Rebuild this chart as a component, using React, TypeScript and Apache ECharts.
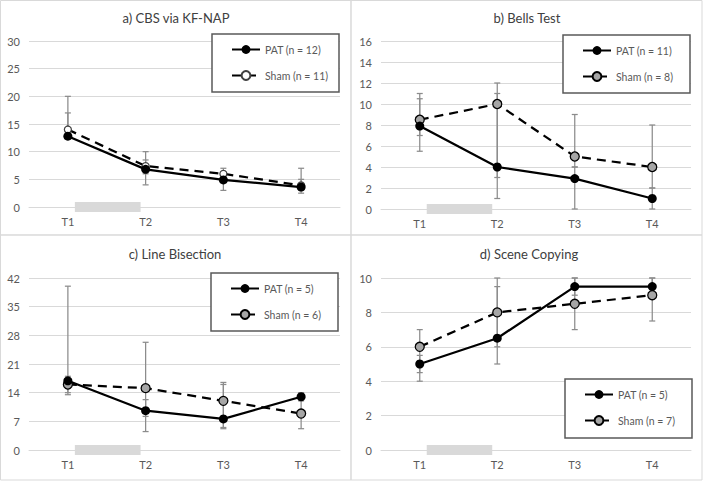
import React, { useEffect, useRef } from "react";
import * as echarts from "echarts";

// ---- data ----
const categories = ["T1", "T2", "T3", "T4"];
const interventionSpan = [0, 1]; // between T1 and T2 (category indices)

const titles = ["a) CBS via KF-NAP", "b) Bells Test", "c) Line Bisection", "d) Scene Copying"];
const patNames = ["PAT (n = 12)", "PAT (n = 11)", "PAT (n = 5)", "PAT (n = 5)"];
const shamNames = ["Sham (n = 11)", "Sham (n = 8)", "Sham (n = 6)", "Sham (n = 7)"];

const yMax = [30, 16, 42, 10];
const yInterval = [5, 2, 7, 2];

const aPat = [12.8, 6.8, 4.9, 3.6];
const aSham = [14, 7.4, 6.0, 3.9];
const aPatErr = [[12.3, 17], [4, 10], [3, 6], [2.5, 5]];
const aShamErr = [[12.6, 20], [6, 8.5], [5.5, 7], [3, 7]];

const bPat = [7.9, 4, 2.9, 1];
const bSham = [8.5, 10, 5, 4];
const bPatErr = [[5.5, 10.5], [1, 11], [0, 4], [0, 2]];
const bShamErr = [[7, 11], [3, 12], [4, 9], [2, 8]];

const cPat = [16.9, 9.6, 7.6, 13];
const cSham = [16, 15.1, 12, 8.9];
const cPatErr = [[14, 18], [4.5, 12.3], [5.2, 16], [12, 14]];
const cShamErr = [[13.5, 40], [8.2, 26.3], [5.5, 16.5], [5.2, 12.5]];

const dPat = [5, 6.5, 9.5, 9.5];
const dSham = [6, 8, 8.5, 9];
const dPatErr = [[4, 5.5], [5, 9.5], [9, 10], [9, 10]];
const dShamErr = [[4.5, 7], [6, 10], [7, 10], [7.5, 10]];

const patData = [aPat, bPat, cPat, dPat];
const shamData = [aSham, bSham, cSham, dSham];
const patErrData = [aPatErr, bPatErr, cPatErr, dPatErr];
const shamErrData = [aShamErr, bShamErr, cShamErr, dShamErr];

// ---- layout ----
const FONT = "Lato, 'Open Sans', sans-serif";
const TEXT = "#595959";
const grids = [
  { left: 29, top: 41, width: 311, height: 166 },
  { left: 381, top: 41, width: 310, height: 168 },
  { left: 29, top: 278, width: 311, height: 172 },
  { left: 381, top: 278, width: 310, height: 172 },
];
const titlePos = [
  [176, 18],
  [527, 18],
  [175, 254],
  [529, 254],
];
const legendBoxes = [
  { x: 212, y: 34, w: 127, h: 58 },
  { x: 563, y: 35, w: 127, h: 58 },
  { x: 211, y: 273, w: 127, h: 58 },
  { x: 565, y: 379, w: 127, h: 59 },
];
const panelRects = [
  { x: 0.5, y: 0.5, w: 350.5, h: 234.5 },
  { x: 351, y: 0.5, w: 351, h: 234.5 },
  { x: 0.5, y: 235, w: 350.5, h: 245 },
  { x: 351, y: 235, w: 351, h: 245 },
];

const errRender = (params: any, api: any) => {
  const x = api.value(0);
  const pLo = api.coord([x, api.value(1)]);
  const pHi = api.coord([x, api.value(2)]);
  const cap = 3;
  const style = { stroke: "#8c8c8c", lineWidth: 1.25 };
  return {
    type: "group",
    children: [
      { type: "line", shape: { x1: pLo[0], y1: pLo[1], x2: pHi[0], y2: pHi[1] }, style },
      { type: "line", shape: { x1: pLo[0] - cap, y1: pLo[1], x2: pLo[0] + cap, y2: pLo[1] }, style },
      { type: "line", shape: { x1: pHi[0] - cap, y1: pHi[1], x2: pHi[0] + cap, y2: pHi[1] }, style },
    ],
  };
};

const interventionRender = (params: any, api: any) => {
  const p0 = api.coord([api.value(0), 0]);
  const p1 = api.coord([api.value(1), 0]);
  const bw = api.size([1, 0])[0];
  const x1 = p0[0] + 0.09 * bw;
  const x2 = p1[0] - 0.065 * bw;
  return {
    type: "rect",
    shape: { x: x1, y: p0[1] - 5, width: x2 - x1, height: 10 },
    style: { fill: "#d9d9d9" },
  };
};

function buildOption() {
  const xAxis: any[] = [];
  const yAxis: any[] = [];
  const series: any[] = [];
  const legend: any[] = [];
  const graphic: any[] = [];

  for (let i = 0; i < 4; i++) {
    xAxis.push({
      type: "category",
      gridIndex: i,
      data: categories,
      boundaryGap: true,
      axisLine: { lineStyle: { color: "#d9d9d9", width: 1 } },
      axisTick: { show: false },
      axisLabel: { color: TEXT, fontSize: 11, fontFamily: FONT, margin: 9 },
    });
    yAxis.push({
      type: "value",
      gridIndex: i,
      min: 0,
      max: yMax[i],
      interval: yInterval[i],
      axisLine: { show: false },
      axisTick: { show: false },
      splitLine: { lineStyle: { color: "#d9d9d9", width: 1 } },
      axisLabel: { color: TEXT, fontSize: 11, fontFamily: FONT, margin: 9 },
    });

    series.push({
      type: "custom",
      name: "intervention" + i,
      xAxisIndex: i,
      yAxisIndex: i,
      renderItem: interventionRender,
      data: [interventionSpan],
      encode: { x: [0, 1] },
      silent: true,
      z: 1,
    });
    series.push({
      type: "custom",
      name: "errPat" + i,
      xAxisIndex: i,
      yAxisIndex: i,
      renderItem: errRender,
      data: patErrData[i].map((e, k) => [k, e[0], e[1]]),
      encode: { x: 0, y: [1, 2] },
      silent: true,
      z: 2,
    });
    series.push({
      type: "custom",
      name: "errSham" + i,
      xAxisIndex: i,
      yAxisIndex: i,
      renderItem: errRender,
      data: shamErrData[i].map((e, k) => [k, e[0], e[1]]),
      encode: { x: 0, y: [1, 2] },
      silent: true,
      z: 2,
    });
    series.push({
      type: "line",
      name: patNames[i],
      xAxisIndex: i,
      yAxisIndex: i,
      data: patData[i],
      symbol: "circle",
      symbolSize: 9,
      itemStyle: { color: "#000000" },
      lineStyle: { color: "#000000", width: 2.25 },
      z: 4,
    });
    const small = i === 0;
    series.push({
      type: "line",
      name: shamNames[i],
      xAxisIndex: i,
      yAxisIndex: i,
      data: shamData[i],
      symbol: "circle",
      symbolSize: small ? 7 : 9,
      itemStyle: small
        ? { color: "#ffffff", borderColor: "#404040", borderWidth: 1.25 }
        : { color: "#a6a6a6", borderColor: "#000000", borderWidth: 1.25 },
      lineStyle: { color: "#000000", width: 2.25, type: [9, 6] },
      z: 3,
    });

    const lb = legendBoxes[i];
    legend.push({
      data: [patNames[i], shamNames[i]],
      orient: "vertical",
      left: lb.x + 19,
      top: lb.y + 10,
      padding: 0,
      itemGap: 15,
      itemWidth: 28,
      itemHeight: 11,
      selectedMode: false,
      textStyle: { color: TEXT, fontSize: 10.5, fontFamily: FONT },
      z: 6,
    });

    const pr = panelRects[i];
    graphic.push({
      type: "rect",
      z: -1,
      shape: { x: pr.x, y: pr.y, width: pr.w, height: pr.h },
      style: { fill: "none", stroke: "#d9d9d9", lineWidth: 1 },
      silent: true,
    });
    graphic.push({
      type: "rect",
      z: 5,
      shape: { x: lb.x, y: lb.y, width: lb.w, height: lb.h },
      style: { fill: "#ffffff", stroke: "#595959", lineWidth: 1.5 },
      silent: true,
    });
    graphic.push({
      type: "text",
      z: 5,
      x: titlePos[i][0],
      y: titlePos[i][1],
      style: {
        text: titles[i],
        fill: "#404040",
        fontSize: 13,
        fontFamily: FONT,
        align: "center",
        verticalAlign: "middle",
      },
      silent: true,
    });
  }

  return {
    animation: false,
    backgroundColor: "#ffffff",
    grid: grids.map((g) => ({ ...g, containLabel: false })),
    xAxis,
    yAxis,
    legend,
    series,
    graphic,
  };
}

export default function App() {
  const ref = useRef<HTMLDivElement>(null);
  useEffect(() => {
    if (!ref.current) return;
    const chart = echarts.init(ref.current, undefined, { renderer: "svg" });
    chart.setOption(buildOption() as any);
    return () => chart.dispose();
  }, []);
  return (
    <div
      ref={ref}
      style={{ position: "absolute", left: 0, top: 0, width: 703, height: 481, background: "#fff" }}
    />
  );
}
